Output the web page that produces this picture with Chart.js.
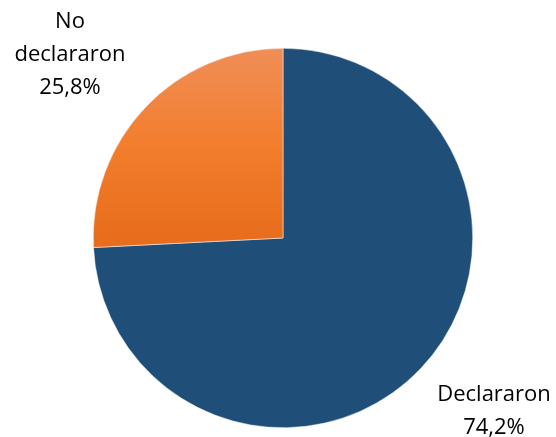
<!DOCTYPE html>
<html><head><meta charset="utf-8">
<script src="https://cdn.jsdelivr.net/npm/chart.js@4/dist/chart.umd.min.js"></script>
<style>html,body{margin:0;padding:0;background:#fff;}#wrap{width:556px;height:437px;}</style>
</head><body><div id="wrap"><canvas id="c" width="556" height="437"></canvas></div>
<script>
const categories = ["Declararon", "No declararon"];
const values = [74.2, 25.8];
const labelLines = [["Declararon", "74,2%"], ["No", "declararon", "25,8%"]];

function sliceColor(ctx) {
  if (ctx.dataIndex === 0) return '#1F4E79';
  const chart = ctx.chart; const a = chart.chartArea;
  if (!a) return '#F07E2E';
  const g = chart.ctx.createLinearGradient(0, a.top, 0, a.top + (a.bottom - a.top) / 2);
  g.addColorStop(0, '#F08E58');
  g.addColorStop(0.5, '#F27E2E');
  g.addColorStop(1, '#E86D1C');
  return g;
}

const labelPlugin = {
  id: 'outLabels',
  afterDraw(chart, args, opts) {
    const c = chart.ctx;
    c.save();
    c.font = '22px "Open Sans", sans-serif';
    c.fillStyle = '#000';
    c.textAlign = 'center';
    c.textBaseline = 'alphabetic';
    opts.anchors.forEach((p, i) => {
      labelLines[i].forEach((t, j) => c.fillText(t, p.x, p.y + j * 33));
    });
    c.restore();
  }
};

new Chart(document.getElementById('c'), {
  type: 'pie',
  data: {
    labels: categories,
    datasets: [{
      data: values,
      backgroundColor: sliceColor,
      borderColor: '#ffffff',
      borderWidth: 0.5
    }]
  },
  options: {
    responsive: false,
    animation: false,
    layout: { padding: { top: 48, bottom: 9, left: 93, right: 83 } },
    plugins: {
      legend: { display: false },
      tooltip: { enabled: false },
      outLabels: { anchors: [{ x: 494, y: 401 }, { x: 70, y: 28 }] }
    }
  },
  plugins: [labelPlugin]
});
</script></body></html>
